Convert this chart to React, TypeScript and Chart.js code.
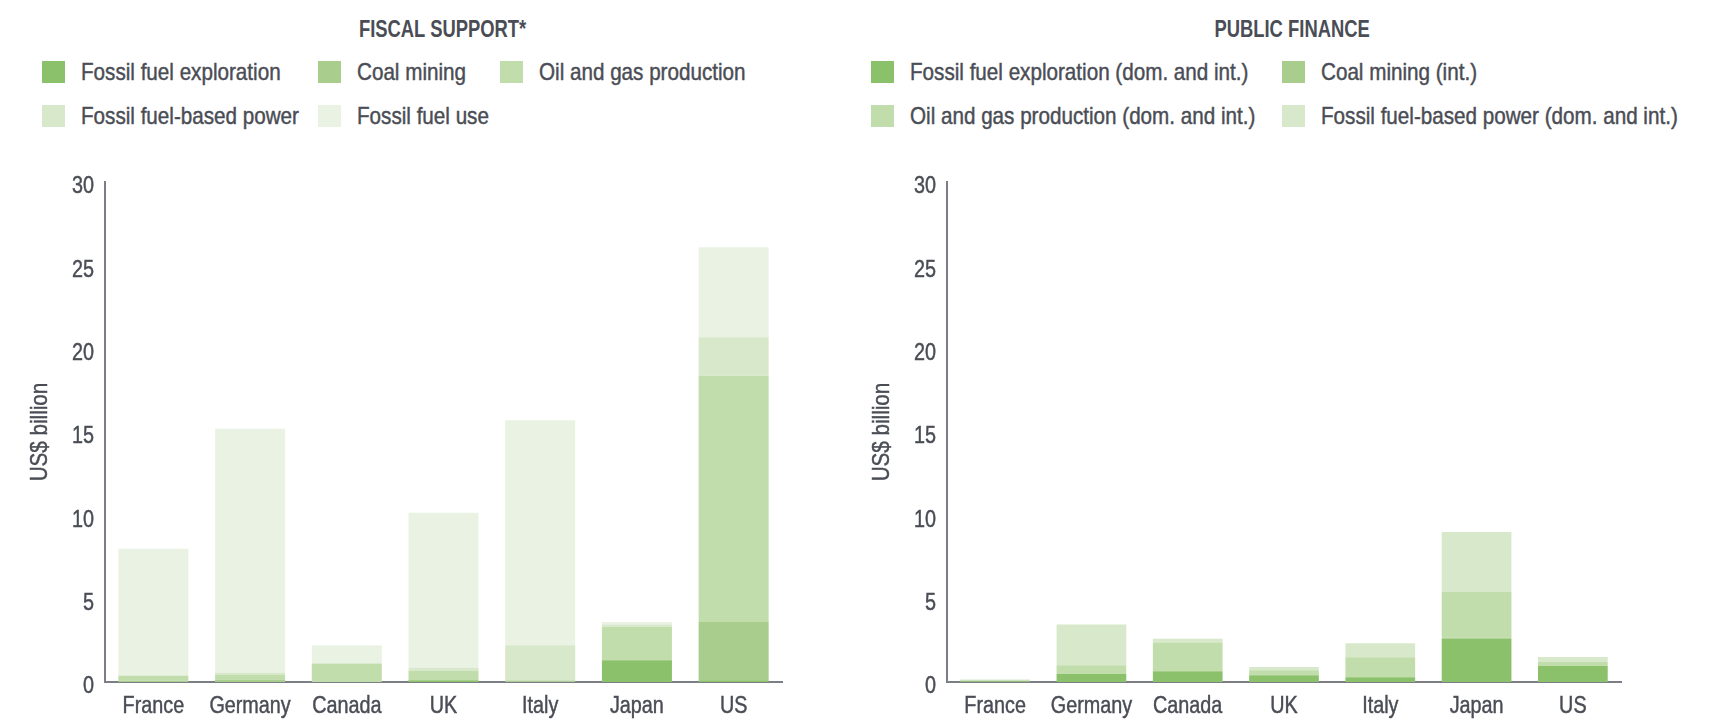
import React, { useEffect, useRef } from 'react';
import { Chart, registerables } from 'chart.js';

Chart.register(...registerables);

// ---------- DATA ----------
const countries = ['France', 'Germany', 'Canada', 'UK', 'Italy', 'Japan', 'US'];
const yTicks = [0, 5, 10, 15, 20, 25, 30];

const fiscalTitle = 'FISCAL SUPPORT*';
const fiscalLabels = ['Fossil fuel exploration', 'Coal mining', 'Oil and gas production', 'Fossil fuel-based power', 'Fossil fuel use'];
const fiscalExploration = [0, 0, 0, 0.1, 0, 1.3, 0.1];
const fiscalCoal = [0.08, 0.15, 0, 0, 0.02, 0.05, 3.5];
const fiscalOilGas = [0.28, 0.3, 1.1, 0.56, 0.08, 1.97, 14.78];
const fiscalPower = [0.04, 0.1, 0.05, 0.2, 2.1, 0.13, 2.3];
const fiscalUse = [7.6, 14.65, 1.05, 9.3, 13.5, 0.15, 5.4];

const financeTitle = 'PUBLIC FINANCE';
const financeLabels = ['Fossil fuel exploration (dom. and int.)', 'Coal mining (int.)', 'Oil and gas production (dom. and int.)', 'Fossil fuel-based power (dom. and int.)'];
const financeExploration = [0.03, 0.48, 0.64, 0.4, 0.28, 2.6, 0.96];
const financeCoal = [0, 0, 0, 0, 0, 0.05, 0];
const financeOilGas = [0.07, 0.52, 1.73, 0.3, 1.2, 2.75, 0.24];
const financePower = [0.05, 2.45, 0.23, 0.2, 0.84, 3.6, 0.3];

const yAxisTitle = 'US$ billion';

// ---------- STYLE ----------
const C_EXPL = '#8bc16a';
const C_COAL = '#a9cd8c';
const C_OIL = '#c1ddab';
const C_POWER = '#d8e8cb';
const C_USE = '#eaf3e3';
const TEXT = '#4a4d55';
const AXIS = '#7b7e85';
const FONT = "'Liberation Sans', Arial, sans-serif";
const SQUEEZE = 0.86;
const STROKE = 0.45;

type Series = { label: string; data: number[]; color: string };

function drawSqueezed(ctx: CanvasRenderingContext2D, text: string, x: number, y: number, align: CanvasTextAlign, rot = 0) {
  ctx.save();
  ctx.translate(x, y);
  if (rot) ctx.rotate(rot);
  ctx.scale(SQUEEZE, 1);
  ctx.textAlign = align;
  ctx.textBaseline = 'middle';
  ctx.fillText(text, 0, 0);
  ctx.strokeText(text, 0, 0);
  ctx.restore();
}

function makeLabelPlugin(yTitleX: number) {
  return {
    id: 'squeezedLabels',
    afterDraw(chart: any) {
      const ctx: CanvasRenderingContext2D = chart.ctx;
      const xs = chart.scales.x;
      const ys = chart.scales.y;
      const area = chart.chartArea;
      ctx.save();
      ctx.fillStyle = TEXT;
      ctx.strokeStyle = TEXT;
      ctx.lineWidth = STROKE;
      ctx.font = `23px ${FONT}`;
      xs.ticks.forEach((t: any, i: number) => {
        drawSqueezed(ctx, String(xs.getLabelForValue(t.value)), xs.getPixelForTick(i), area.bottom + 25, 'center');
      });
      ctx.font = `23px ${FONT}`;
      ys.ticks.forEach((t: any) => {
        drawSqueezed(ctx, String(t.value), area.left - 11, ys.getPixelForValue(t.value) + 5, 'right');
      });
      ctx.font = `24px ${FONT}`;
      drawSqueezed(ctx, yAxisTitle, yTitleX, (area.top + area.bottom) / 2, 'center', -Math.PI / 2);
      ctx.restore();
    },
  };
}

function StackChart(props: {
  left: number;
  width: number;
  series: Series[];
  yAxisWidth: number;
  padRight: number;
  yTitleX: number;
}) {
  const ref = useRef<HTMLCanvasElement | null>(null);
  const top = 140;
  const height = 579;
  useEffect(() => {
    if (!ref.current) return;
    const chart = new Chart(ref.current, {
      type: 'bar',
      data: {
        labels: countries,
        datasets: props.series.map((s) => ({
          label: s.label,
          data: s.data,
          backgroundColor: s.color,
          borderWidth: 0,
          categoryPercentage: 1,
          barPercentage: 0.724,
        })),
      },
      options: {
        animation: false,
        responsive: false,
        maintainAspectRatio: false,
        layout: { padding: { top: 42, right: props.padRight, bottom: 0, left: 0 } },
        plugins: { legend: { display: false }, tooltip: { enabled: false }, title: { display: false } },
        scales: {
          x: {
            stacked: true,
            grid: { display: false, drawTicks: false },
            border: { display: true, color: AXIS, width: 2 },
            ticks: { display: false, autoSkip: false },
            afterFit: (s: any) => { s.height = 37; },
          },
          y: {
            stacked: true,
            min: 0,
            max: 30,
            afterBuildTicks: (s: any) => { s.ticks = yTicks.map((v) => ({ value: v })); },
            ticks: { display: false },
            grid: { display: false, drawTicks: false },
            border: { display: true, color: AXIS, width: 2 },
            afterFit: (s: any) => { s.width = props.yAxisWidth; },
          },
        },
      } as any,
      plugins: [makeLabelPlugin(props.yTitleX)],
    });
    return () => chart.destroy();
  }, []);
  return (
    <canvas
      ref={ref}
      width={props.width}
      height={height}
      style={{ position: 'absolute', left: props.left, top, width: props.width, height }}
    />
  );
}

function Legend(props: { items: { label: string; color: string; x: number; row: number }[] }) {
  return (
    <>
      {props.items.map((it) => (
        <div key={it.label} style={{ position: 'absolute', left: it.x, top: 61 + it.row * 44, height: 22, display: 'flex', alignItems: 'center', whiteSpace: 'nowrap' }}>
          <div style={{ width: 23, height: 22, background: it.color, flex: 'none' }} />
          <div style={{ marginLeft: 16, fontFamily: FONT, fontSize: 24, color: TEXT, lineHeight: '22px', WebkitTextStroke: `${STROKE}px ${TEXT}`, transform: `scaleX(${SQUEEZE})`, transformOrigin: 'left center' } as any}>{it.label}</div>
        </div>
      ))}
    </>
  );
}

export default function App() {
  const fiscalSeries: Series[] = [
    { label: fiscalLabels[0], data: fiscalExploration, color: C_EXPL },
    { label: fiscalLabels[1], data: fiscalCoal, color: C_COAL },
    { label: fiscalLabels[2], data: fiscalOilGas, color: C_OIL },
    { label: fiscalLabels[3], data: fiscalPower, color: C_POWER },
    { label: fiscalLabels[4], data: fiscalUse, color: C_USE },
  ];
  const financeSeries: Series[] = [
    { label: financeLabels[0], data: financeExploration, color: C_EXPL },
    { label: financeLabels[1], data: financeCoal, color: C_COAL },
    { label: financeLabels[2], data: financeOilGas, color: C_OIL },
    { label: financeLabels[3], data: financePower, color: C_POWER },
  ];
  const titleStyle: React.CSSProperties = {
    position: 'absolute', top: 14, height: 30, lineHeight: '30px', fontFamily: FONT, fontWeight: 'bold',
    fontSize: 23, color: TEXT, textAlign: 'center', whiteSpace: 'nowrap',
  };
  const inner: React.CSSProperties = { display: 'inline-block', transform: 'scaleX(0.8)', transformOrigin: 'center center' };
  return (
    <div style={{ position: 'absolute', left: 0, top: 0, width: 1718, height: 719, background: '#fff', overflow: 'hidden' }}>
      <div style={{ ...titleStyle, left: 243, width: 400 }}><span style={inner}>{fiscalTitle}</span></div>
      <div style={{ ...titleStyle, left: 1092, width: 400 }}><span style={inner}>{financeTitle}</span></div>
      <Legend
        items={[
          { label: fiscalLabels[0], color: C_EXPL, x: 42, row: 0 },
          { label: fiscalLabels[1], color: C_COAL, x: 318, row: 0 },
          { label: fiscalLabels[2], color: C_OIL, x: 500, row: 0 },
          { label: fiscalLabels[3], color: C_POWER, x: 42, row: 1 },
          { label: fiscalLabels[4], color: C_USE, x: 318, row: 1 },
        ]}
      />
      <Legend
        items={[
          { label: financeLabels[0], color: C_EXPL, x: 871, row: 0 },
          { label: financeLabels[1], color: C_COAL, x: 1282, row: 0 },
          { label: financeLabels[2], color: C_OIL, x: 871, row: 1 },
          { label: financeLabels[3], color: C_POWER, x: 1282, row: 1 },
        ]}
      />
      <StackChart left={0} width={860} series={fiscalSeries} yAxisWidth={105} padRight={78} yTitleX={40} />
      <StackChart left={860} width={858} series={financeSeries} yAxisWidth={87} padRight={97} yTitleX={22} />
    </div>
  );
}
